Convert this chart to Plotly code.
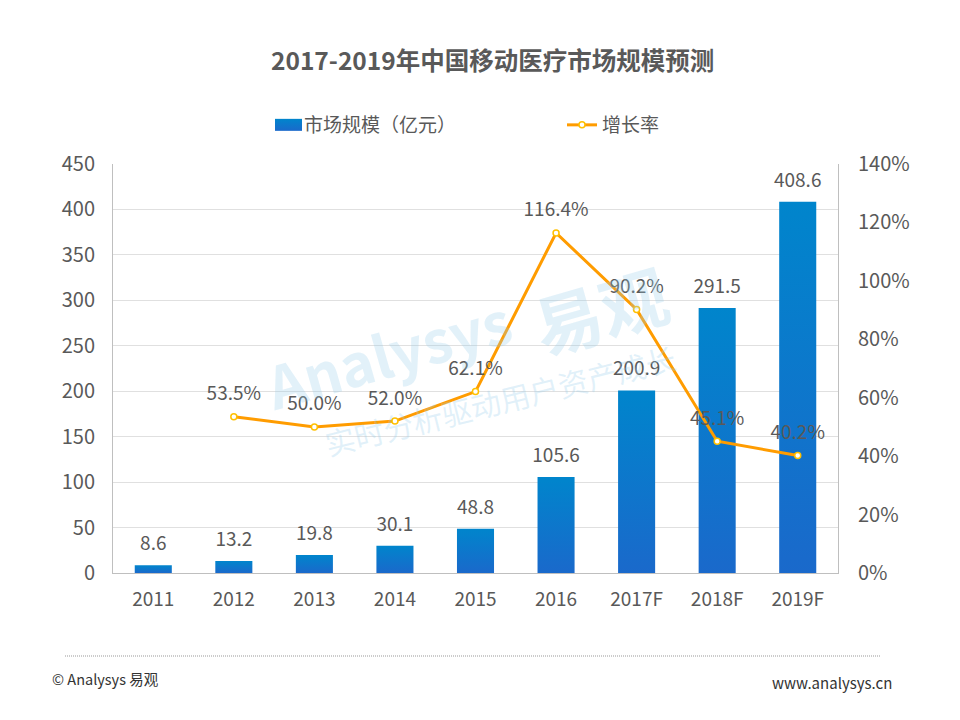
import plotly.graph_objects as go

categories = ["2011", "2012", "2013", "2014", "2015", "2016", "2017F", "2018F", "2019F"]
market_size = [8.6, 13.2, 19.8, 30.1, 48.8, 105.6, 200.9, 291.5, 408.6]
growth_rate = [None, 53.5, 50.0, 52.0, 62.1, 116.4, 90.2, 45.1, 40.2]
left_ticks = [0, 50, 100, 150, 200, 250, 300, 350, 400, 450]
right_ticks = [0, 20, 40, 60, 80, 100, 120, 140]
right_labels = ["0%", "20%", "40%", "60%", "80%", "100%", "120%", "140%"]
title = "2017-2019年中国移动医疗市场规模预测"
bar_name = "市场规模（亿元）"
line_name = "增长率"

FONT = "Noto Sans CJK SC, Noto Sans, sans-serif"
GREY = "#595959"
W, H = 960, 720
L, R, T, B = 113, 122, 164, 147
PW, PH = W - L - R, H - T - B


def fx(x):
    return (x - L) / PW


def fy(y):
    return (H - y - B) / PH


fig = go.Figure()
fig.add_trace(go.Bar(
    x=categories, y=market_size, name=bar_name, width=0.46,
    marker=dict(color="#0f78cc", line=dict(width=0)),
    text=[f"{v:.1f}" for v in market_size], textposition="outside", constraintext="none",
    textfont=dict(size=19, color=GREY, family=FONT), cliponaxis=False,
))
fig.add_trace(go.Scatter(
    x=categories, y=growth_rate, name=line_name, yaxis="y2",
    mode="lines+markers+text",
    line=dict(color="#ff9c00", width=3),
    marker=dict(size=6, color="white", line=dict(color="#ffc000", width=1.5)),
    text=[None if v is None else f"{v:.1f}%" for v in growth_rate],
    textposition="top center",
    textfont=dict(size=19, color=GREY, family=FONT), cliponaxis=False,
))

WM = "rgba(150,205,235,0.28)"
annotations = [
    dict(text=f"<b>{title}</b>", x=fx(492), y=fy(59), font=dict(size=24.5, color=GREY, family=FONT)),
    dict(text="<b>Analysys</b>", x=fx(388), y=fy(352), textangle=-16,
         font=dict(size=58, color=WM, family=FONT)),
    dict(text="<b>易观</b>", x=fx(600), y=fy(308), textangle=-16,
         font=dict(size=68, color=WM, family=FONT)),
    dict(text="实时分析驱动用户资产成长", x=fx(500), y=fy(400), textangle=-14,
         font=dict(size=30, color=WM, family=FONT)),
    dict(text="© Analysys 易观", x=fx(105), y=fy(678), font=dict(size=14.5, color="#333333", family=FONT)),
    dict(text="www.analysys.cn", x=fx(832), y=fy(682), font=dict(size=15, color="#333333", family=FONT)),
]
for a in annotations:
    a.update(xref="paper", yref="paper", showarrow=False, xanchor="center", yanchor="middle")

fig.update_layout(
    width=W, height=H, margin=dict(l=L, r=R, t=T, b=B, autoexpand=False),
    paper_bgcolor="white", plot_bgcolor="white",
    font=dict(family=FONT, color=GREY, size=18),
    bargap=0.54, showlegend=True,
    legend=dict(orientation="h", x=fx(264), y=fy(125),
                xanchor="left", yanchor="middle", entrywidth=253, entrywidthmode="pixels",
                font=dict(size=19, color=GREY, family=FONT), bgcolor="rgba(0,0,0,0)"),
    xaxis=dict(type="category", tickfont=dict(size=19, color=GREY), showline=True,
               linecolor="#bfbfbf", linewidth=1, ticks="", showgrid=False, ticklabelstandoff=9),
    yaxis=dict(range=[0, 450], tickvals=left_ticks, tickfont=dict(size=20, color=GREY),
               showline=True, linecolor="#bfbfbf", linewidth=1, gridcolor="#e0e0e0", gridwidth=1,
               ticks="", zeroline=False, ticklabelstandoff=13),
    yaxis2=dict(range=[0, 140], tickvals=right_ticks, ticktext=right_labels, overlaying="y", side="right",
                tickfont=dict(size=20, color=GREY), showline=True, linecolor="#bfbfbf", linewidth=1,
                showgrid=False, ticks="", zeroline=False, ticklabelstandoff=15),
    annotations=annotations,
    shapes=[dict(type="line", xref="paper", yref="paper",
                 x0=fx(65), x1=fx(880), y0=fy(656), y1=fy(656),
                 line=dict(color="#999999", width=1, dash="1px,1px"))],
)

post = """
document.body.style.margin = '0';
var gd = document.getElementById('{plot_id}');
var svg = gd.querySelector('svg.main-svg');
var ns = 'http://www.w3.org/2000/svg';
var defs = document.createElementNS(ns, 'defs');
var g = document.createElementNS(ns, 'linearGradient');
g.setAttribute('id', 'barfade');
g.setAttribute('x1', '0'); g.setAttribute('y1', '0');
g.setAttribute('x2', '0'); g.setAttribute('y2', '1');
[['0', '#0085cc'], ['1', '#1a69cb']].forEach(function (s) {
  var st = document.createElementNS(ns, 'stop');
  st.setAttribute('offset', s[0]); st.setAttribute('stop-color', s[1]);
  g.appendChild(st);
});
defs.appendChild(g); svg.appendChild(defs);
gd.querySelectorAll('.barlayer .point path').forEach(function (p) {
  p.style.fill = 'url(#barfade)';
});
gd.querySelectorAll('.legend .legendpoints path.legendundefined, .legend .legendbar path').forEach(function (p) {
  p.setAttribute('d', 'M18,6H-9V-6H18Z');
  p.style.fill = 'url(#barfade)';
});
gd.querySelectorAll('.barlayer .point text, .scatterlayer .textpoint text').forEach(function (t) {
  t.setAttribute('y', parseFloat(t.getAttribute('y')) - 7);
  var tr = t.getAttribute('transform');
  if (tr) { t.setAttribute('transform', 'translate(0,-7) ' + tr); t.setAttribute('y', parseFloat(t.getAttribute('y')) + 7); }
});
"""
fig.write_html("out.html", post_script=post, config={"displayModeBar": False})
